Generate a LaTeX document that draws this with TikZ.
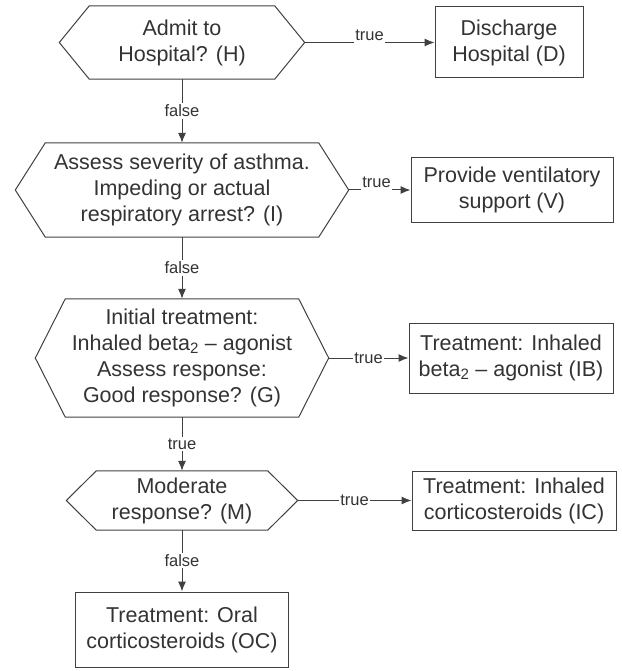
\documentclass[tikz,border=0pt]{standalone}
\usepackage{fontspec}
\setmainfont{Liberation Sans}
\usetikzlibrary{positioning,arrows.meta}
\definecolor{linegray}{gray}{0.25}
\definecolor{textgray}{gray}{0.2}
\tikzset{
  decision/.style={inner sep=0pt, align=center},
  box/.style={draw=linegray, line width=1pt, inner sep=0pt, align=center},
  lbl/.style={fill=white, inner sep=1.5pt, font=\fontsize{16.5}{18}\selectfont},
  lblup/.style={lbl, anchor=base, yshift=2pt, inner ysep=3pt},
}
\newcommand{\hexframe}[1]{\draw[linegray, line width=1pt] (#1.west) -- ([xshift=30pt]#1.north west) -- ([xshift=-30pt]#1.north east) -- (#1.east) -- ([xshift=-30pt]#1.south east) -- ([xshift=30pt]#1.south west) -- cycle;}

\begin{document}
\begin{tikzpicture}[x=1pt, y=1pt, on grid, >={Latex[length=10pt,width=8pt]},
    every node/.style={font=\fontsize{21.5}{26}\selectfont, text=textgray}]
  \useasboundingbox (-182,42.5) rectangle (439,-628.5);

  \node[decision, minimum width=245pt, minimum height=73pt] (H) {Admit to\\Hospital? (H)};
  \node[box, right=327pt of H, minimum width=148pt, minimum height=71pt] (D) {Discharge\\Hospital (D)};
  \node[decision, below=147.5pt of H, minimum width=333pt, minimum height=94pt] (I) {Assess severity of asthma.\\Impeding or actual\\respiratory arrest? (I)};
  \node[box, right=330pt of I, minimum width=202pt, minimum height=64pt] (V) {Provide ventilatory\\support (V)};
  \node[decision, below=168pt of I, minimum width=293pt, minimum height=118pt] (G) {Initial treatment:\\Inhaled beta\textsubscript{2} – agonist\\Assess response:\\Good response? (G)};
  \node[box, right=329pt of G, minimum width=204pt, minimum height=70pt] (IB) {Treatment: Inhaled\\beta\textsubscript{2} – agonist (IB)};
  \node[decision, below=142.5pt of G, minimum width=231pt, minimum height=59pt] (M) {Moderate\\response? (M)};
  \node[box, right=332pt of M, minimum width=204pt, minimum height=59pt] (IC) {Treatment: Inhaled\\corticosteroids (IC)};
  \node[box, below=129pt of M, minimum width=213pt, minimum height=75pt] (OC) {Treatment: Oral\\corticosteroids (OC)};

  \hexframe{H}
  \hexframe{I}
  \hexframe{G}
  \hexframe{M}

  \draw[->, linegray, line width=1pt] (H) -- node[lblup] {true} (D);
  \draw[->, linegray, line width=1pt] (H) -- node[lbl] {false} (I);
  \draw[->, linegray, line width=1pt] (I) -- node[lblup, pos=0.45] {true} (V);
  \draw[->, linegray, line width=1pt] (I) -- node[lbl] {false} (G);
  \draw[->, linegray, line width=1pt] (G) -- node[lbl] {true} (IB);
  \draw[->, linegray, line width=1pt] (G) -- node[lbl] {true} (M);
  \draw[->, linegray, line width=1pt] (M) -- node[lbl] {true} (IC);
  \draw[->, linegray, line width=1pt] (M) -- node[lbl] {false} (OC);
\end{tikzpicture}
\end{document}
